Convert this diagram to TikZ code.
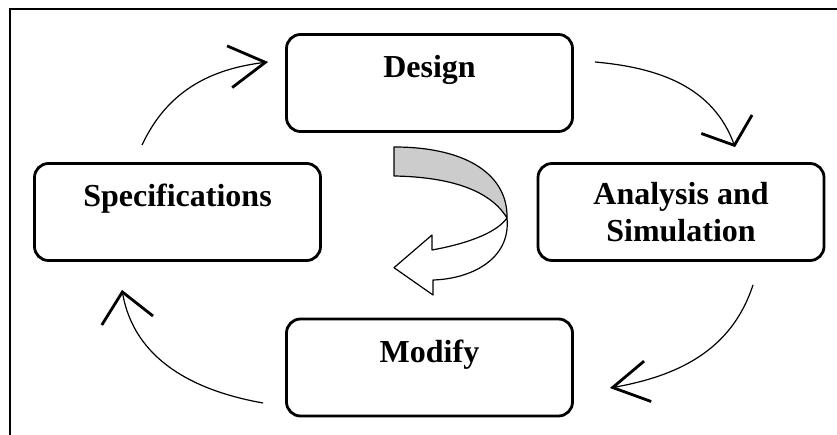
\documentclass[tikz,border=0pt]{standalone}
\usepackage{fontspec}
\setmainfont{Liberation Serif}
\usetikzlibrary{arrows.meta,calc}
\begin{document}
\begin{tikzpicture}[x=1pt,y=1pt,
  box/.style={draw, line width=2.8pt, rounded corners=14pt, minimum width=286pt, minimum height=97pt, inner sep=0pt, font=\fontsize{32}{37}\selectfont\bfseries, align=center},
  oneline/.style={text height=22pt, text depth=32pt},
  flow/.style={line width=1.2pt},
  frame/.style={line width=2pt},
  ribbon/.style={line width=1.2pt, line join=round},
  bandgray/.style={fill=black!20},
]
\useasboundingbox (0,0) rectangle (837,435);
% outer frame
\draw[frame] (9.5,0) -- (9.5,426) -- (837,426);
% boxes
\node[box, oneline] (design) at (429.5,352) {Design};
\node[box, oneline] (spec) at (177.5,223) {Specifications};
\node[box] (analysis) at (681,223) {Analysis and\\Simulation};
\node[box, oneline] (modify) at (429.5,67.5) {Modify};
% connector end points
\coordinate (a1s) at ($(spec.north)+(-35.5,17)$);
\coordinate (a1e) at ($(design.west)+(-17,21)$);
\coordinate (a2s) at ($(design.east)+(21,21)$);
\coordinate (a2e) at ($(analysis.north)+(54,15)$);
\coordinate (a3s) at ($(analysis.south)+(72,-23)$);
\coordinate (a3e) at ($(modify.east)+(36,-20.5)$);
\coordinate (a4s) at ($(modify.west)+(-22,-35.5)$);
\coordinate (a4e) at ($(spec.south)+(-55.5,-28)$);
% cycle arrows
\draw[flow, -{Straight Barb[length=36pt,width=42pt,line width=2.8pt]}] (a1s) to[out=65,in=187] (a1e);
\draw[flow, -{Straight Barb[length=22.5pt,width=54pt,line width=2.8pt]}] (a2s) to[out=-5,in=110] (a2e);
\draw[flow, -{Straight Barb[length=35.5pt,width=41pt,line width=2.8pt]}] (a3s) to[out=-108,in=10] (a3e);
\draw[flow, -{Straight Barb[length=29pt,width=52pt,line width=2.8pt]}] (a4s) to[out=170,in=-80] (a4e);
% central U-turn ribbon arrow
\coordinate (tw) at (507,217);
\draw[ribbon, bandgray] (394,259) -- (394,288) .. controls (470,288) and (508,258) .. (tw)
  .. controls (490,245) and (450,258) .. (394,259) -- cycle;
\draw[ribbon, fill=white] (tw) .. controls (511,175) and (470,156) .. (433,155)
  -- (433,140) -- (394,167.3) -- (432,200) -- (432,185)
  .. controls (460,190) and (495,200) .. (tw) -- cycle;
\end{tikzpicture}
\end{document}
